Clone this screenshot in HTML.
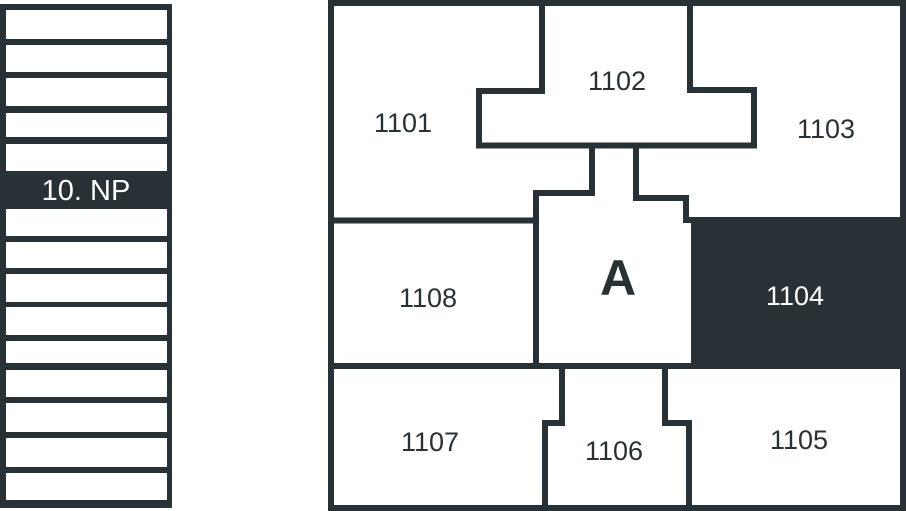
<!DOCTYPE html>
<html><head><style>
html,body{margin:0;padding:0;background:#fff;}
svg{display:block;}
text{font-family:"Liberation Sans",sans-serif;font-weight:300;}
</style></head><body>
<svg width="906" height="511" viewBox="0 0 906 511" xmlns="http://www.w3.org/2000/svg">
<rect x="0" y="4" width="172" height="504" fill="#283135"/>
<g fill="#fff">
<rect x="6" y="10" width="161" height="29"/>
<rect x="6" y="45" width="161" height="27"/>
<rect x="6" y="78" width="161" height="28"/>
<rect x="6" y="113" width="161" height="24"/>
<rect x="6" y="144" width="161" height="27"/>
<rect x="6" y="209" width="161" height="27"/>
<rect x="6" y="242" width="161" height="26"/>
<rect x="6" y="274" width="161" height="28"/>
<rect x="6" y="307" width="161" height="28"/>
<rect x="6" y="341" width="161" height="22"/>
<rect x="6" y="370" width="161" height="27"/>
<rect x="6" y="403" width="161" height="29"/>
<rect x="6" y="438" width="161" height="29"/>
<rect x="6" y="473" width="161" height="27"/>
</g>
<text x="86" y="200" fill="#fff" font-size="29" text-anchor="middle">10. NP</text>

<rect x="331" y="3" width="572" height="505" fill="#fff" stroke="#283135" stroke-width="6"/>
<rect x="694" y="220" width="212" height="148" fill="#283135"/>
<g fill="none" stroke="#283135" stroke-width="6">
<polyline points="542,3 542,91 479,91 479,145.5 754,145.5 754,90 690,90 690,3"/>
<polyline points="592,145 592,193 536,193 536,366"/>
<polyline points="636,145 636,198 686,198 686,220 694,220 694,366"/>
<line x1="331" y1="220.5" x2="536" y2="220.5"/>
<line x1="686" y1="220" x2="906" y2="220"/>
<line x1="331" y1="366" x2="906" y2="366"/>
<polyline points="562,366 562,423 545,423 545,508"/>
<polyline points="665,366 665,423 689,423 689,508"/>
</g>
<g font-size="27" fill="#283135" text-anchor="middle">
<text x="403" y="132">1101</text>
<text x="617" y="90">1102</text>
<text x="826" y="138">1103</text>
<text x="428" y="307">1108</text>
<text x="430" y="451">1107</text>
<text x="614" y="460">1106</text>
<text x="799" y="449">1105</text>
</g>
<text x="795" y="305" font-size="27" fill="#fff" text-anchor="middle">1104</text>
<text x="618" y="295" font-size="50" fill="#283135" text-anchor="middle" style="font-weight:bold">A</text>
</svg>
</body></html>
